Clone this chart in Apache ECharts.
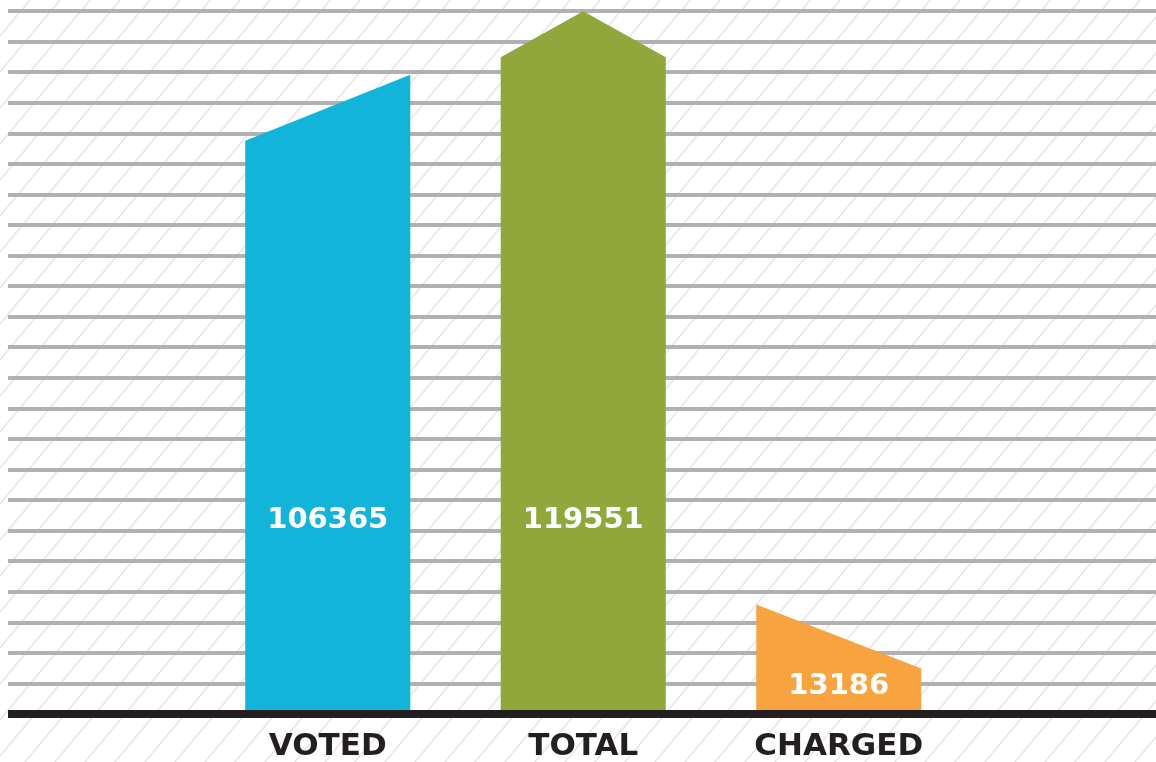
<!DOCTYPE html>
<html>
<head>
<meta charset="utf-8">
<script src="https://cdn.jsdelivr.net/npm/echarts@6/dist/echarts.min.js"></script>
<style>
  html, body { margin: 0; padding: 0; background: #fff; }
  #J_bars { width: 1156px; height: 762px; }
</style>
</head>
<body>
<div id="J_bars"></div>
<script>
var categories = ['VOTED', 'TOTAL', 'CHARGED'];
var values = [106365, 119551, 13186];
var yMax = 119600;
var yStep = 5200;

// decorative tops, px offsets from the value height: [left, peak, right]
var topShapes = [[52, null, -14], [46, 0, 46], [-32, null, 32]];
var labelLift = [194, 194, 28];
var colors = ['#13b4d9', '#91a73c', '#f7a33f'];

function hatch() {
    var w = 30, h = 36;
    var c = document.createElement('canvas');
    c.width = w;
    c.height = h;
    var ctx = c.getContext('2d');
    ctx.fillStyle = '#ffffff';
    ctx.fillRect(0, 0, w, h);
    ctx.strokeStyle = '#e6e6e8';
    ctx.lineWidth = 1.5;
    [-w, 0, w].forEach(function (dx) {
        ctx.beginPath();
        ctx.moveTo(dx, h);
        ctx.lineTo(dx + w, 0);
        ctx.stroke();
    });
    return c;
}

var myChart = echarts.init(document.getElementById('J_bars'));

var seriesData = values.map(function (v, i) {
    return [i, v];
});

var option = {
    backgroundColor: { image: hatch(), repeat: 'repeat' },
    animation: false,
    grid: [
        { left: 8, right: 0, top: 11, bottom: 48 },
        { left: 200, width: 766.5, top: 11, bottom: 48 }
    ],
    xAxis: [{
        gridIndex: 0,
        type: 'value',
        z: 10,
        axisLine: { show: true, onZero: false, lineStyle: { color: '#231f20', width: 8, cap: 'butt' } },
        axisTick: { show: false },
        axisLabel: { show: false },
        splitLine: { show: false }
    }, {
        gridIndex: 1,
        type: 'category',
        data: categories,
        axisLine: { show: false },
        axisTick: { show: false },
        axisLabel: {
            margin: 17,
            color: '#231f20',
            fontFamily: 'DejaVu Sans',
            fontWeight: 'bold',
            fontSize: 31
        }
    }],
    yAxis: [{
        gridIndex: 0,
        type: 'value',
        min: 0,
        max: yMax,
        interval: yStep,
        axisLine: { show: false },
        axisTick: { show: false },
        axisLabel: { show: false },
        splitLine: { show: true, lineStyle: { color: '#b1b1b5', width: 4, cap: 'butt' } }
    }, {
        gridIndex: 1,
        type: 'value',
        min: 0,
        max: yMax,
        show: false
    }],
    series: [{
        type: 'custom',
        xAxisIndex: 1,
        yAxisIndex: 1,
        data: seriesData,
        renderItem: function (params, api) {
            var i = api.value(0);
            var base = api.coord([i, 0]);
            var top = api.coord([i, api.value(1)]);
            var half = api.size([1, 0])[0] * 0.646 / 2;
            var s = topShapes[i];
            var x0 = base[0] - half, x1 = base[0] + half;
            var pts = [[x0, base[1]], [x0, top[1] + s[0]]];
            if (s[1] !== null) {
                pts.push([base[0], top[1] + s[1]]);
            }
            pts.push([x1, top[1] + s[2]]);
            pts.push([x1, base[1]]);
            return {
                type: 'group',
                children: [{
                    type: 'polygon',
                    shape: { points: pts },
                    style: { fill: colors[i] }
                }, {
                    type: 'text',
                    style: {
                        text: String(values[i]),
                        x: base[0],
                        y: base[1] - labelLift[i],
                        align: 'center',
                        verticalAlign: 'middle',
                        fill: '#ffffff',
                        fontFamily: 'DejaVu Sans',
                        fontWeight: 'bold',
                        fontSize: 29
                    }
                }]
            };
        }
    }]
};

myChart.setOption(option);
</script>
</body>
</html>
